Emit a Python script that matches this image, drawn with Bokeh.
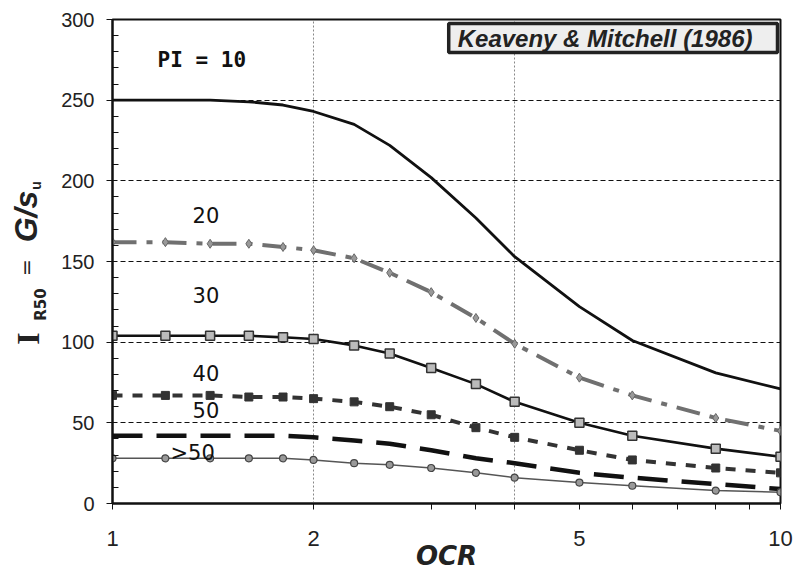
import math
from bokeh.plotting import figure
from bokeh.layouts import row
from bokeh.models import Label, FixedTicker, LogAxis, LogScale, Grid
from bokeh.core.properties import value
from bokeh.embed import file_html
from bokeh.resources import INLINE

# ---- data ----
ocr = [1, 1.2, 1.4, 1.6, 1.8, 2, 2.3, 2.6, 3, 3.5, 4, 5, 6, 8, 10]
pi10 = [250, 250, 250, 249, 247, 243, 235, 222, 202, 177, 153, 122, 101, 81, 71]
pi20 = [162, 162, 161, 161, 159, 157, 152, 143, 131, 115, 99, 78, 67, 53, 45]
pi30 = [104, 104, 104, 104, 103, 102, 98, 93, 84, 74, 63, 50, 42, 34, 29]
pi40 = [67, 67, 67, 66, 66, 65, 63, 60, 55, 47, 41, 33, 27, 22, 19]
pi50 = [42, 42, 42, 42, 42, 41, 39, 37, 33, 28, 25, 19, 16, 12, 9]
pi_gt50 = [28, 28, 28, 28, 28, 27, 25, 24, 22, 19, 16, 13, 11, 8, 7]

x_major = [1, 2, 5, 10]
x_minor = [3, 3.5, 4, 6, 7, 8, 9]
x_grid = [2, 4]
y_major = [0, 50, 100, 150, 200, 250, 300]
y_minor = [v for v in range(10, 300, 10) if v % 50 != 0]

LW = 50  # width of the y-label strip
H = 575

p = figure(x_axis_type=None, x_range=(1, 10), y_range=(0, 300),
           frame_width=668, frame_height=484, min_border_left=112 - LW, min_border_top=19,
           min_border_right=20, min_border_bottom=72, output_backend="svg",
           toolbar_location=None, background_fill_color="white",
           border_fill_color="white")
p.x_scale = LogScale()
xaxis = LogAxis(ticker=FixedTicker(ticks=x_major, minor_ticks=x_minor))
p.add_layout(xaxis, "below")

p.outline_line_color = "#111111"
p.outline_line_width = 2

for ax in p.axis:
    ax.axis_line_color = "#111111"
    ax.axis_line_width = 2
    ax.major_tick_line_color = "#111111"
    ax.minor_tick_line_color = "#111111"
    ax.major_label_text_font = "Liberation Sans"
    ax.major_label_text_color = "#222222"

p.yaxis.ticker = FixedTicker(ticks=y_major, minor_ticks=y_minor)
p.yaxis.major_tick_out = 6
p.yaxis.major_tick_in = 0
p.yaxis.minor_tick_in = 6
p.yaxis.minor_tick_out = 0
p.yaxis.major_label_text_font_size = "20px"
p.yaxis.major_label_standoff = 12

xaxis.major_tick_out = 6
xaxis.major_tick_in = 0
xaxis.minor_tick_out = 6
xaxis.minor_tick_in = 0
xaxis.major_label_text_font_size = "22px"
xaxis.major_label_standoff = 21
xaxis.major_label_overrides = {1: "1", 2: "2", 5: "5", 10: "10"}
xaxis.axis_label = "OCR"
xaxis.axis_label_text_font = "DejaVu Sans"
xaxis.axis_label_text_font_style = "bold italic"
xaxis.axis_label_text_font_size = "26px"
xaxis.axis_label_text_color = "#222222"
xaxis.axis_label_standoff = -8

# grids
p.ygrid.ticker = FixedTicker(ticks=[50, 100, 150, 200, 250])
p.ygrid.grid_line_color = "#111111"
p.ygrid.grid_line_dash = "5 3"
p.ygrid.grid_line_width = 1
p.xgrid.grid_line_color = None
vg = Grid(dimension=0, ticker=FixedTicker(ticks=x_grid), grid_line_color="#888888",
          grid_line_dash="2 2", grid_line_width=1)
p.add_layout(vg)

# curves
p.line(ocr, pi10, line_color="#111111", line_width=2.8)

p.line(ocr, pi20, line_color="#707070", line_width=4, line_dash="24 10 6 10")
p.scatter(ocr, pi20, marker="diamond", size=9, fill_color="#999999", line_color="#666666")

p.line(ocr, pi30, line_color="#111111", line_width=2.6)
p.scatter(ocr, pi30, marker="square", size=9, fill_color="#bbbbbb", line_color="#333333",
          line_width=1.5)

p.line(ocr, pi40, line_color="#333333", line_width=4, line_dash="10 10")
p.scatter(ocr, pi40, marker="square", size=8, fill_color="#333333", line_color="#333333")

p.line(ocr, pi50, line_color="#111111", line_width=4.5, line_dash="30 14")

p.line(ocr, pi_gt50, line_color="#555555", line_width=1.5)
p.scatter(ocr, pi_gt50, marker="circle", size=7, fill_color="#999999", line_color="#444444",
          line_width=1.2)

# curve labels
lab_font = "DejaVu Sans"
p.add_layout(Label(x=1.168, y=275, text="PI = 10", text_font="DejaVu Sans Mono",
                   text_font_style="bold", text_font_size="21px", text_baseline="middle",
                   text_color="#111111"))
for txt, xx, yy in [("20", 1.318, 179), ("30", 1.318, 129.5), ("40", 1.318, 81),
                    ("50", 1.318, 58), (">50", 1.221, 31.6)]:
    p.add_layout(Label(x=xx, y=yy, text=txt, text_font=lab_font, text_font_size="21px",
                       text_baseline="middle", text_color="#111111"))

# source box
p.add_layout(Label(x=10, y=300, x_offset=-3, y_offset=-4, text="Keaveny & Mitchell (1986)",
                   text_font="Liberation Sans", text_font_style="bold italic",
                   text_font_size="24px", text_align="right", text_baseline="top",
                   text_color="#222222", background_fill_color="#eeeeee",
                   border_line_color="#222222", border_line_width=3.5,
                   padding=(9, 25, 1, 1)))

# y-axis label strip (pixel coordinates of the page, y measured from bottom)
lab = figure(frame_width=LW, frame_height=H, x_range=(0, LW), y_range=(0, H),
             min_border=0, output_backend="svg", toolbar_location=None,
             x_axis_type=None, y_axis_type=None, outline_line_color=None,
             background_fill_color="white", border_fill_color="white")
lab.xgrid.visible = False
lab.ygrid.visible = False
ang = math.pi / 2
# (text, centre x px, centre y px, font, style, size)
pieces = [
    ("I", 27, 319, "Liberation Serif", "bold", "32px"),
    ("R50", 40, 285, "DejaVu Sans", "bold", "15px"),
    ("=", 25, 248, "DejaVu Sans", "normal", "20px"),
    ("G/s", 25, 197, "Liberation Sans", "bold italic", "32px"),
    ("u", 35, 166, "Liberation Sans", "bold", "14px"),
]
for txt, px, py, f, st, sz in pieces:
    lab.text(x=[px], y=[H - py], text=[txt], angle=ang, text_font=value(f),
             text_font_style=st, text_font_size=sz, text_align="center",
             text_baseline="middle", text_color="#222222")

layout = row(lab, p, spacing=0)
open("out.html", "w").write(file_html(layout, INLINE))
